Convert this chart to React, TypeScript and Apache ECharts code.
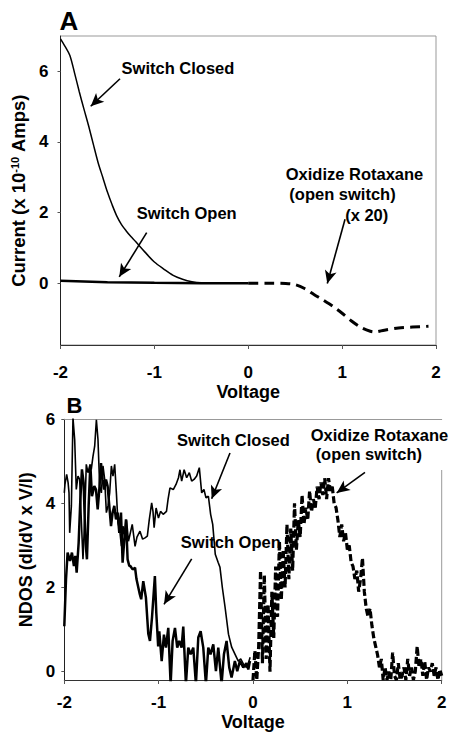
import React, { useEffect, useRef } from "react";
import * as echarts from "echarts";

// ---------- Panel A data (Voltage, Current x1e-10 A) ----------
const closedA: [number, number][] = [
  [-2.0, 6.92], [-1.95, 6.7], [-1.9, 6.45], [-1.85, 5.95], [-1.8, 5.42], [-1.75, 4.93],
  [-1.7, 4.45], [-1.65, 3.93], [-1.6, 3.42], [-1.55, 3.0], [-1.5, 2.58], [-1.45, 2.22],
  [-1.4, 1.9], [-1.35, 1.66], [-1.3, 1.48], [-1.25, 1.32], [-1.2, 1.18], [-1.1, 0.88],
  [-1.0, 0.6], [-0.9, 0.4], [-0.8, 0.22], [-0.7, 0.11], [-0.6, 0.04], [-0.5, 0.01],
  [-0.3, 0.0], [0.0, 0.0],
];
const openA: [number, number][] = [
  [-2.0, 0.07], [-1.5, 0.03], [-1.0, 0.01], [-0.5, 0.0], [0.0, 0.0],
];
const oxidizeA: [number, number][] = [
  [0.0, 0.0], [0.2, 0.0], [0.4, -0.01], [0.5, -0.04], [0.6, -0.15], [0.7, -0.32],
  [0.8, -0.48], [0.9, -0.65], [1.0, -0.85], [1.1, -1.07], [1.2, -1.25], [1.3, -1.36],
  [1.35, -1.38], [1.45, -1.33], [1.6, -1.27], [1.75, -1.24], [1.92, -1.22],
];

// ---------- Panel B data (Voltage, NDOS) ----------
const closedB: [number, number][] = [
  [-2.0, 4.25], [-1.993, 4.45], [-1.975, 4.69], [-1.96, 4.5], [-1.95, 4.25], [-1.943, 3.3],
  [-1.925, 3.94], [-1.908, 6.03], [-1.89, 5.52], [-1.873, 4.33], [-1.855, 4.65], [-1.837, 4.57],
  [-1.82, 3.62], [-1.802, 2.67], [-1.784, 3.62], [-1.767, 4.93], [-1.749, 4.73], [-1.731, 4.89],
  [-1.714, 4.81], [-1.696, 5.12], [-1.678, 5.36], [-1.66, 5.99], [-1.643, 5.52], [-1.625, 4.41],
  [-1.607, 4.25], [-1.59, 4.89], [-1.572, 4.57], [-1.554, 3.78], [-1.537, 3.94], [-1.519, 4.25],
  [-1.501, 4.89], [-1.484, 4.65], [-1.466, 4.93], [-1.448, 4.25], [-1.431, 3.54], [-1.413, 3.38],
  [-1.395, 2.98], [-1.378, 3.46], [-1.36, 3.2], [-1.34, 3.6], [-1.32, 3.1], [-1.304, 3.26],
  [-1.28, 3.5], [-1.25, 2.98], [-1.23, 3.2], [-1.198, 3.34], [-1.17, 3.15], [-1.145, 3.18],
  [-1.12, 3.22], [-1.1, 3.6], [-1.074, 4.01], [-1.06, 3.81], [-1.048, 3.42], [-1.027, 3.89],
  [-1.002, 3.65], [-0.98, 3.81], [-0.952, 3.74], [-0.917, 3.81], [-0.9, 4.1], [-0.88, 4.37],
  [-0.845, 4.33], [-0.816, 4.45], [-0.79, 4.61], [-0.774, 4.8], [-0.756, 4.53], [-0.73, 4.8],
  [-0.703, 4.61], [-0.675, 4.73], [-0.65, 4.53], [-0.625, 4.57], [-0.597, 4.65], [-0.569, 4.85],
  [-0.544, 4.25], [-0.52, 4.33], [-0.498, 4.13], [-0.473, 4.17], [-0.449, 3.74], [-0.427, 3.5],
  [-0.4, 2.79], [-0.37, 2.6], [-0.35, 2.48], [-0.325, 2.0], [-0.296, 1.53], [-0.26, 0.89],
  [-0.226, 0.58], [-0.19, 0.41], [-0.156, 0.25], [-0.13, 0.3], [-0.1, 0.17], [-0.07, 0.1],
  [-0.05, 0.2], [-0.03, 0.34],
];
const openB: [number, number][] = [
  [-2.0, 1.08], [-1.982, 2.19], [-1.965, 2.83], [-1.94, 2.63], [-1.919, 2.83], [-1.898, 2.51],
  [-1.883, 2.75], [-1.869, 2.35], [-1.848, 3.06], [-1.83, 4.09], [-1.813, 4.81], [-1.795, 4.49],
  [-1.777, 3.14], [-1.76, 2.67], [-1.742, 3.94], [-1.724, 4.93], [-1.707, 4.17], [-1.682, 4.41],
  [-1.664, 4.33], [-1.646, 3.86], [-1.629, 4.33], [-1.611, 4.96], [-1.594, 4.57], [-1.576, 4.33],
  [-1.558, 4.57], [-1.541, 4.41], [-1.523, 3.94], [-1.505, 3.46], [-1.488, 3.78], [-1.47, 3.94],
  [-1.452, 3.62], [-1.435, 3.78], [-1.417, 3.3], [-1.399, 3.78], [-1.382, 2.59], [-1.364, 3.14],
  [-1.346, 3.62], [-1.329, 2.67], [-1.311, 2.51], [-1.3, 2.51], [-1.276, 2.43], [-1.25, 2.47],
  [-1.235, 2.2], [-1.2, 1.84], [-1.185, 1.72], [-1.163, 2.15], [-1.135, 1.76], [-1.11, 0.9],
  [-1.092, 0.73], [-1.07, 1.3], [-1.04, 2.27], [-1.025, 1.4], [-1.005, 0.6], [-0.993, 0.96],
  [-0.968, 0.25], [-0.944, 0.88], [-0.923, 0.57], [-0.898, 1.04], [-0.873, -0.3], [-0.852, 0.73],
  [-0.827, 1.04], [-0.803, 0.57], [-0.782, 0.73], [-0.757, 0.57], [-0.739, 1.07], [-0.711, -0.3],
  [-0.686, 0.57], [-0.661, 0.41], [-0.633, 0.57], [-0.605, -0.3], [-0.58, 0.81], [-0.555, 0.96],
  [-0.527, 0.57], [-0.499, -0.3], [-0.474, 0.57], [-0.45, 0.41], [-0.421, 0.65], [-0.393, 0.01],
  [-0.368, 0.57], [-0.333, -0.3], [-0.308, 0.41], [-0.28, 0.73], [-0.252, 0.1], [-0.227, -0.14],
  [-0.192, 0.25], [-0.167, 0.01], [-0.139, 0.25], [-0.103, 0.1], [-0.07, 0.2], [-0.05, 0.05],
  [-0.032, 0.25],
];
const oxidizeB: [number, number][] = [
  [0.0, -0.2], [0.02, 0.5], [0.04, -0.2], [0.06, 0.6], [0.08, 2.4], [0.1, 0.2], [0.12, 2.3],
  [0.14, 0.3], [0.16, 1.6], [0.18, 0.0], [0.2, 1.9], [0.22, 0.8], [0.24, 2.5], [0.26, 1.3],
  [0.28, 3.1], [0.3, 1.7], [0.32, 2.9], [0.34, 2.0], [0.36, 3.5], [0.38, 2.2], [0.4, 3.4],
  [0.42, 2.4], [0.44, 4.0], [0.46, 2.9], [0.48, 3.6], [0.5, 3.2], [0.52, 4.2], [0.54, 3.5],
  [0.56, 3.9], [0.58, 3.6], [0.6, 4.3], [0.62, 3.8], [0.64, 4.1], [0.66, 3.9], [0.68, 4.4],
  [0.7, 4.1], [0.72, 4.5], [0.74, 4.2], [0.76, 4.6], [0.78, 4.1], [0.8, 4.6], [0.82, 4.3],
  [0.84, 4.4], [0.86, 4.0], [0.88, 3.9], [0.9, 3.6], [0.92, 3.2], [0.94, 3.5], [0.96, 3.1],
  [0.98, 3.3], [1.0, 2.9], [1.02, 3.0], [1.04, 2.6], [1.06, 2.5], [1.08, 2.2], [1.1, 2.4],
  [1.12, 1.9], [1.14, 2.2], [1.16, 2.7], [1.18, 1.9], [1.2, 1.5], [1.22, 1.3], [1.24, 1.5],
  [1.26, 1.1], [1.28, 0.8], [1.3, 0.6], [1.32, 0.4], [1.34, 0.1], [1.36, 0.3], [1.38, -0.2],
  [1.4, 0.1], [1.42, -0.2], [1.44, 0.0], [1.46, -0.2], [1.48, 0.45], [1.5, -0.1], [1.52, -0.2],
  [1.54, 0.2], [1.56, -0.2], [1.58, -0.1], [1.6, 0.1], [1.62, -0.2], [1.64, 0.3], [1.66, -0.1],
  [1.68, 0.1], [1.7, -0.2], [1.72, 0.0], [1.74, 0.6], [1.76, 0.1], [1.78, 0.3], [1.8, -0.1],
  [1.82, 0.25], [1.84, -0.2], [1.86, 0.1], [1.88, 0.0], [1.9, 0.2], [1.92, -0.1], [1.94, 0.1],
  [1.96, -0.2], [1.98, 0.05], [2.0, -0.1],
];

// Tick labels
const yTicksA = [0, 2, 4, 6];
const yTicksB = [0, 2, 4, 6];

// Annotation arrows (data coordinates: [from, to])
const arrowsA: [[number, number], [number, number]][] = [
  [[-1.366, 5.79], [-1.678, 5.01]],
  [[-1.082, 1.43], [-1.374, 0.18]],
  [[1.031, 1.81], [0.842, -0.01]],
];
const arrowsB: [[number, number], [number, number]][] = [
  [[-0.244, 5.2], [-0.438, 4.11]],
  [[-0.65, 2.68], [-0.943, 1.6]],
  [[1.187, 4.74], [0.887, 4.25]],
];

const FONT = "'Liberation Sans', Arial, Helvetica, sans-serif";

export default function App() {
  const ref = useRef<HTMLDivElement>(null);
  useEffect(() => {
    if (!ref.current) return;
    const chart = echarts.init(ref.current, null, { renderer: "svg" });

    const labelStyle = { fontFamily: FONT, fontWeight: "bold" as const, fontSize: 17, color: "#000" };
    const nameStyle = { fontFamily: FONT, fontWeight: "bold" as const, fontSize: 18, color: "#000" };

    const mkArrows = (arrows: typeof arrowsA) => ({
      silent: true,
      symbol: ["none", "arrow"],
      symbolSize: [9, 13],
      label: { show: false },
      emphasis: { disabled: true },
      lineStyle: { color: "#000", width: 1.6, type: "solid" },
      data: arrows.map(([a, b]) => [{ coord: a }, { coord: b }]),
    });

    const txt = (text: string, x: number, y: number, size = 16.5) => ({
      type: "text",
      x,
      y,
      silent: true,
      style: {
        text,
        fontFamily: FONT,
        fontWeight: "bold",
        fontSize: size,
        fill: "#000",
        align: "center",
        verticalAlign: "middle",
      },
    });

    const option: any = {
      animation: false,
      backgroundColor: "#fff",
      grid: [
        { left: 60.5, top: 36, width: 375.5, height: 309, show: true, borderColor: "#999", borderWidth: 1 },
        { left: 64.3, top: 419.3, width: 377.4, height: 261.4 },
      ],
      xAxis: [
        {
          gridIndex: 0, type: "value", min: -2, max: 2, interval: 1,
          axisLine: { onZero: false, lineStyle: { color: "#333", width: 1 } },
          axisTick: { show: true, length: 4, lineStyle: { color: "#555" } },
          splitLine: { show: false },
          axisLabel: { ...labelStyle, margin: 19 },
          name: "Voltage", nameLocation: "middle", nameGap: 38, nameTextStyle: nameStyle,
        },
        {
          gridIndex: 1, type: "value", min: -2, max: 2, interval: 1,
          axisLine: { onZero: false, lineStyle: { color: "#333", width: 1 } },
          axisTick: { show: true, length: 4, lineStyle: { color: "#555" } },
          splitLine: { show: false },
          axisLabel: { ...labelStyle, margin: 14 },
          name: "Voltage", nameLocation: "middle", nameGap: 33, nameTextStyle: nameStyle,
        },
        {
          gridIndex: 1, type: "value", min: -2, max: 2, position: "top",
          axisLine: { onZero: false, lineStyle: { color: "#999", width: 1 } },
          axisTick: { show: false }, axisLabel: { show: false }, splitLine: { show: false },
        },
      ],
      yAxis: [
        {
          gridIndex: 0, type: "value", min: -1.75, max: 7,
          axisLine: { onZero: false, lineStyle: { color: "#222", width: 1 } },
          axisTick: { show: true, length: 3, customValues: yTicksA, lineStyle: { color: "#555" } },
          splitLine: { show: false },
          axisLabel: { ...labelStyle, margin: 12, customValues: yTicksA },
          name: "Current (x 10{sup|-10} Amps)", nameLocation: "middle", nameGap: 24,
          nameTextStyle: {
            ...nameStyle,
            fontSize: 18.5,
            rich: { sup: { fontFamily: FONT, fontWeight: "bold", fontSize: 11, verticalAlign: "top", lineHeight: 10, color: "#000" } },
          },
        },
        {
          gridIndex: 1, type: "value", min: -0.2, max: 6,
          axisLine: { onZero: false, lineStyle: { color: "#222", width: 1 } },
          axisTick: { show: true, length: 3, customValues: yTicksB, lineStyle: { color: "#555" } },
          splitLine: { show: false },
          axisLabel: { ...labelStyle, margin: 9, customValues: yTicksB },
          name: "NDOS (dI/dV x V/I)", nameLocation: "middle", nameGap: 29, nameTextStyle: nameStyle,
        },
      ],
      series: [
        {
          name: "Switch Closed A", type: "line", xAxisIndex: 0, yAxisIndex: 0, data: closedA,
          showSymbol: false, smooth: 0.3, lineStyle: { color: "#000", width: 1.5 },
          markLine: mkArrows(arrowsA),
        },
        {
          name: "Switch Open A", type: "line", xAxisIndex: 0, yAxisIndex: 0, data: openA,
          showSymbol: false, lineStyle: { color: "#000", width: 2.5 },
        },
        {
          name: "Oxidize A", type: "line", xAxisIndex: 0, yAxisIndex: 0, data: oxidizeA,
          showSymbol: false, smooth: 0.3, lineStyle: { color: "#000", width: 3, type: [10, 6] },
        },
        {
          name: "Switch Closed B", type: "line", xAxisIndex: 1, yAxisIndex: 1, data: closedB,
          showSymbol: false, lineStyle: { color: "#000", width: 1.6 },
          markLine: mkArrows(arrowsB),
        },
        {
          name: "Switch Open B", type: "line", xAxisIndex: 1, yAxisIndex: 1, data: openB,
          showSymbol: false, lineStyle: { color: "#000", width: 2.5 },
        },
        {
          name: "Oxidize B", type: "line", xAxisIndex: 1, yAxisIndex: 1, data: oxidizeB,
          showSymbol: false, lineStyle: { color: "#000", width: 3.2, type: [7, 3] },
        },
      ],
      graphic: [
        txt("A", 69, 21, 26),
        txt("B", 74.5, 405, 22),
        txt("Switch Closed", 178, 68.3),
        txt("Switch Open", 186.7, 213.3),
        txt("Oxidize Rotaxane", 354.5, 174),
        txt("(open switch)", 342.5, 194.3),
        txt("(x 20)", 366.7, 215),
        txt("Switch Closed", 233.5, 440),
        txt("Oxidize Rotaxane", 379.5, 435),
        txt("(open switch)", 368.8, 454.3),
        txt("Switch Open", 230.8, 541.7),
        {
          type: "line", silent: true,
          shape: { x1: 441.7, y1: 470, x2: 441.7, y2: 680.7 },
          style: { stroke: "#999", lineWidth: 1 },
        },
      ],
    };

    chart.setOption(option);
    return () => chart.dispose();
  }, []);

  return (
    <div
      ref={ref}
      style={{ position: "fixed", left: 0, top: 0, width: 450, height: 732, background: "#fff" }}
    />
  );
}
